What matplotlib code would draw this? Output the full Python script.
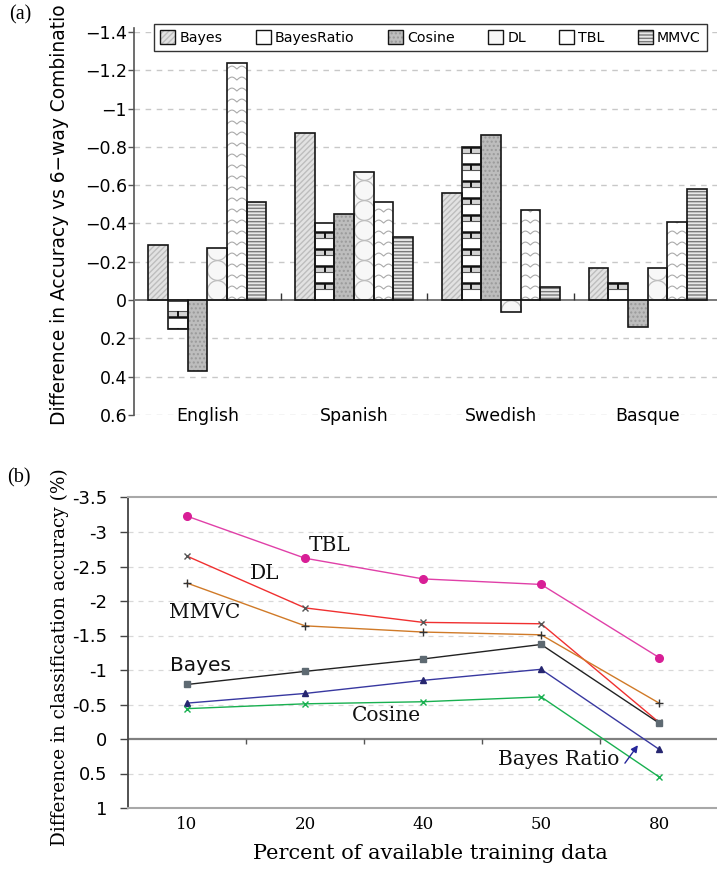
import numpy as np
import matplotlib
matplotlib.use("Agg")
import matplotlib.pyplot as plt
from matplotlib.patches import Patch
from matplotlib.legend_handler import HandlerTuple

# ---- panel (a): difference vs 6-way combination, per language ----
languages = ["English", "Spanish", "Swedish", "Basque"]
methods = ["Bayes", "BayesRatio", "Cosine", "DL", "TBL", "MMVC"]
bayes = [-0.29, -0.87, -0.56, -0.17]
bayes_ratio = [0.15, -0.40, -0.80, -0.09]
cosine = [0.37, -0.45, -0.86, 0.14]
dl = [-0.27, -0.67, 0.06, -0.17]
tbl = [-1.24, -0.51, -0.47, -0.41]
mmvc = [-0.51, -0.33, -0.07, -0.58]
a_ticks = [-1.4, -1.2, -1.0, -0.8, -0.6, -0.4, -0.2, 0.0, 0.2, 0.4, 0.6]

# ---- panel (b): difference vs percent of training data ----
pct_labels = ["10", "20", "40", "50", "80"]
b_tbl = [-3.23, -2.62, -2.32, -2.24, -1.18]
b_dl = [-2.65, -1.90, -1.69, -1.67, -0.24]
b_mmvc = [-2.26, -1.64, -1.55, -1.51, -0.52]
b_bayes = [-0.79, -0.98, -1.16, -1.37, -0.23]
b_bayes_ratio = [-0.52, -0.66, -0.85, -1.01, 0.15]
b_cosine = [-0.44, -0.51, -0.54, -0.61, 0.55]
b_ticks = [-3.5, -3.0, -2.5, -2.0, -1.5, -1.0, -0.5, 0.0, 0.5, 1.0]

SANS = ["DejaVu Sans"]
SERIF = ["DejaVu Serif"]
TIMES = ["Liberation Serif", "DejaVu Serif"]
W, H = 717, 871

fig = plt.figure(figsize=(W / 100, H / 100), dpi=100)


def px_axes(left, top, right, bottom):
    return fig.add_axes([left / W, 1 - bottom / H, (right - left) / W, (bottom - top) / H])


# =================== (a) bar chart ===================
ax = px_axes(134, 32, 717, 415)
ax.set_xlim(-0.5, 3.473)
ax.set_ylim(0.6, -1.4)
for s in ["top", "right", "bottom"]:
    ax.spines[s].set_visible(False)
ax.spines["left"].set_color("#555555")
ax.spines["left"].set_linewidth(1.2)
ax.spines["left"].set_bounds(0.6, -1.42)

for t in a_ticks:
    if t != 0:
        ax.axhline(t, color="#c8c8c8", lw=1.0, ls=(0, (4, 4)), zorder=0)
ax.axhline(0, color="#7a7a7a", lw=1.4, zorder=3)
ax.vlines([0.5, 1.5, 2.5], 0, -0.035, color="#333333", lw=1.0, zorder=3)

ax.set_yticks(a_ticks, [f"{t:g}".replace("-", "\u2212") for t in a_ticks])
ax.tick_params(axis="y", length=4, width=1.0, color="#555555", pad=1,
               labelsize=12.5)
for lbl in ax.get_yticklabels():
    lbl.set_family(SANS)
ax.set_xticks(range(len(languages)), languages)
ax.tick_params(axis="x", length=0, pad=-6, labelsize=12.5)
for lbl in ax.get_xticklabels():
    lbl.set_family(SANS)
    lbl.set_bbox(dict(facecolor="white", edgecolor="none", pad=1))

bar_w = 0.134
x = np.arange(len(languages))
sy = 2.0 / (415 - 32)      # data units per pixel, vertical

# fill colour, hatch, hatch colour
styles = {
    "Bayes": ("#e2e2e2", "//////", "#bdbdbd"),
    "BayesRatio": ("#ffffff", "", "#ffffff"),
    "Cosine": ("#bdbdbd", "....", "#9a9a9a"),
    "DL": ("#f7f7f7", "", "#f7f7f7"),
    "TBL": ("#ffffff", "", "#ffffff"),
    "MMVC": ("#e8e8e8", "-----", "#7a7a7a"),
}
series = [bayes, bayes_ratio, cosine, dl, tbl, mmvc]
handles = []
for k, (name, vals) in enumerate(zip(methods, series)):
    fc, hatch, hc = styles[name]
    pos = x + (k - 2.5) * bar_w
    fills = ax.bar(pos, vals, bar_w, color=fc, hatch=hatch, edgecolor=hc,
                   lw=0, zorder=2)
    ax.bar(pos, vals, bar_w, fill=False, edgecolor="#151515", lw=1.2, zorder=4)
    for bar in fills:
        bx0, bw = bar.get_x(), bar.get_width()
        by0 = min(bar.get_y(), bar.get_y() + bar.get_height())
        by1 = max(bar.get_y(), bar.get_y() + bar.get_height())
        arts = []
        if name == "TBL":
            # wavy rows
            xs = np.linspace(bx0, bx0 + bw, 60)
            bump = np.abs(np.sin(2 * np.pi * (xs - bx0) / bw)) * 3 * sy
            for yb in np.arange(by1, by0 - 12 * sy, -11 * sy):
                arts += ax.plot(xs, yb - bump, color="#aaaaaa", lw=0.8, zorder=2.5)
        elif name == "DL":
            # stacked rings
            if bar.get_height() < 0:
                cy = np.arange(by1 - 10 * sy, by0 - 20 * sy, -20 * sy)
            else:
                cy = np.arange(by0 + 10 * sy, by1 + 20 * sy, 20 * sy)
            arts += ax.plot(np.full(len(cy), bx0 + bw / 2), cy, "o", ms=14.2,
                            mfc="none", mec="#bdbdbd", mew=0.9, zorder=2.5)
        elif name == "BayesRatio":
            # brick courses
            sign = -1 if bar.get_height() < 0 else 1
            for r in range(40):
                y_line = sign * r * 17 * sy
                if abs(y_line) > by1 - by0 + 1e-9:
                    break
                b0 = y_line + sign * 11 * sy
                b1 = y_line + sign * 17 * sy
                arts.append(ax.hlines(y_line, bx0, bx0 + bw, color="#111111",
                                      lw=1.8, zorder=2.5))
                arts.append(ax.fill_between([bx0, bx0 + bw], b0, b1,
                                            color="#d4d4d4", lw=0, zorder=2.4))
                arts.append(ax.hlines(b0, bx0, bx0 + bw, color="#555555",
                                      lw=0.8, zorder=2.5))
                arts.append(ax.vlines(bx0 + bw / 2, b0, b1, color="#111111",
                                      lw=1.4, zorder=2.5))
        for a in arts:
            a.set_clip_path(bar)
    handles.append((Patch(facecolor=fc, hatch=hatch, edgecolor=hc, lw=0),
                    Patch(fill=False, edgecolor="#151515", lw=1.0)))

leg = ax.legend(handles, methods, ncol=6, loc="upper left",
                bbox_to_anchor=(154 / W, 1 - 24 / H), bbox_transform=fig.transFigure,
                handler_map={tuple: HandlerTuple(ndivide=1, pad=0)},
                handlelength=1.05, handleheight=1.05, handletextpad=0.3,
                columnspacing=2.35, borderpad=0.45, borderaxespad=0,
                fancybox=False, framealpha=1, edgecolor="#333333",
                prop={"family": SANS, "size": 10.2})
leg.get_frame().set_linewidth(1.0)
leg.set_zorder(6)

fig.text(60 / W, 1 - 425 / H, "Difference in Accuracy vs 6\u2212way Combinatio",
         rotation=90, ha="center", va="bottom", family=SANS, fontsize=13.4)
fig.text(20 / W, 1 - 15 / H, "(a)", ha="center", va="center", family=TIMES,
         fontsize=14.5)

# =================== (b) line chart ===================
bx = px_axes(128, 497.5, 717, 808)
bx.set_xlim(-0.5, 4.49)
bx.set_ylim(1, -3.5)
bx.spines["right"].set_visible(False)
bx.spines["left"].set_color("#444444")
bx.spines["left"].set_linewidth(1.3)
for s in ["top", "bottom"]:
    bx.spines[s].set_color("#a8a8a8")
    bx.spines[s].set_linewidth(1.5)

for t in b_ticks:
    if t not in (-3.5, 0.0, 1.0):
        bx.axhline(t, color="#d8d8d8", lw=0.9, ls=(0, (4, 4)), zorder=0)
bx.axhline(0, color="#808080", lw=1.6, zorder=1)
bx.vlines([0.5, 1.5, 2.5, 3.5], 0, 0.07, color="#555555", lw=1.0, zorder=1)

bx.set_yticks(b_ticks, [f"{t:g}" for t in b_ticks])
bx.tick_params(axis="y", length=6, width=1.0, color="#444444", pad=9,
               labelsize=13)
for lbl in bx.get_yticklabels():
    lbl.set_family(SANS)
xp = np.arange(len(pct_labels))
bx.set_xticks(xp, pct_labels)
bx.tick_params(axis="x", length=0, pad=6, labelsize=12)
for lbl in bx.get_xticklabels():
    lbl.set_family(SERIF)

line_specs = [
    (b_tbl, "#e040a8", "o", "#d81e96", "#d81e96", 5.5),
    (b_dl, "#f03030", "x", "none", "#555555", 4.5),
    (b_mmvc, "#d07a28", "+", "none", "#333333", 5.5),
    (b_bayes, "#222222", "s", "#5e6a72", "#5e6a72", 5),
    (b_bayes_ratio, "#3838a0", "^", "#262670", "#262670", 5),
    (b_cosine, "#18b050", "x", "none", "#18b050", 4.5),
]
for vals, lc, mk, mfc, mec, ms in line_specs:
    bx.plot(xp, vals, color=lc, lw=1.0, marker=mk, ms=ms, mfc=mfc, mec=mec,
            mew=1.0, zorder=3)

lbl_kw = dict(ha="center", va="center", fontsize=14.5, color="#111111")
bx.text(1.21, -2.80, "TBL", family=SERIF, **lbl_kw)
bx.text(0.66, -2.40, "DL", family=SERIF, **lbl_kw)
bx.text(0.15, -1.84, "MMVC", family=SERIF, **lbl_kw)
bx.text(0.11, -1.07, "Bayes", family=SANS, **lbl_kw)
bx.text(1.69, -0.34, "Cosine", family=SERIF, **lbl_kw)
bx.text(3.15, 0.29, "Bayes Ratio", family=SERIF, **lbl_kw)
bx.annotate("", xy=(3.82, 0.09), xytext=(3.71, 0.35),
            arrowprops=dict(arrowstyle="-|>", color="#26269a", lw=1.0,
                            mutation_scale=10, shrinkA=0, shrinkB=0))

fig.text(430 / W, 1 - 853 / H, "Percent of available training data",
         ha="center", va="center", family=SERIF, fontsize=15)
fig.text(60 / W, 1 - 657 / H, "Difference in classification accuracy (%)",
         rotation=90, ha="center", va="center", family=SERIF, fontsize=13.3)
fig.text(19 / W, 1 - 478 / H, "(b)", ha="center", va="center", family=TIMES,
         fontsize=14.5)

fig.savefig("out.png", dpi=100, facecolor="white")
